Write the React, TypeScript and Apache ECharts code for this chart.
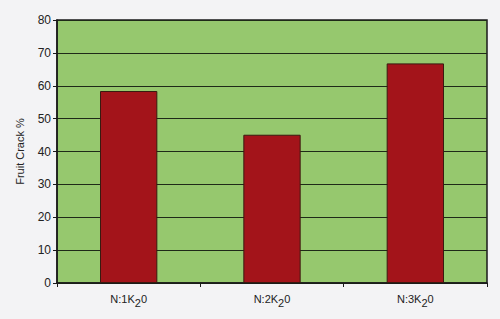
import React, { useEffect, useRef } from "react";
import * as echarts from "echarts";

const categories = ["N:1K{sub|2}0", "N:2K{sub|2}0", "N:3K{sub|2}0"];
const crackValues = [58.4, 45.1, 66.8];
const yTicks = { min: 0, max: 80, interval: 10 };
const yAxisTitle = "Fruit Crack %";

export default function App() {
  const ref = useRef<HTMLDivElement>(null);
  useEffect(() => {
    if (!ref.current) return;
    const chart = echarts.init(ref.current, null, { renderer: "svg" });
    chart.setOption({
      animation: false,
      backgroundColor: "#f3f3f5",
      grid: {
        left: 57,
        top: 20,
        right: 13,
        bottom: 36,
        show: true,
        backgroundColor: "#96c86e",
        borderColor: "#1a1a1a",
        borderWidth: 1.5,
      },
      xAxis: {
        type: "category",
        data: categories,
        axisLine: { lineStyle: { color: "#1a1a1a", width: 1.5 } },
        axisTick: { show: true, alignWithLabel: false, length: 4, lineStyle: { color: "#1a1a1a" } },
        axisLabel: {
          margin: 7,
          color: "#222",
          fontFamily: "Liberation Sans, Arial, sans-serif",
          fontSize: 11,
          rich: {
            sub: { fontSize: 11, padding: [7, 0, 0, 0], color: "#222", fontFamily: "Liberation Sans, Arial, sans-serif" },
          },
        },
      },
      yAxis: {
        type: "value",
        min: yTicks.min,
        max: yTicks.max,
        interval: yTicks.interval,
        name: yAxisTitle,
        nameLocation: "middle",
        nameGap: 32,
        nameTextStyle: { color: "#222", fontSize: 11, fontFamily: "Liberation Sans, Arial, sans-serif" },
        axisLine: { show: true, lineStyle: { color: "#1a1a1a", width: 1.5 } },
        axisTick: { show: true, length: 4, lineStyle: { color: "#1a1a1a" } },
        axisLabel: { color: "#222", fontSize: 12, margin: 6, fontFamily: "Liberation Sans, Arial, sans-serif" },
        splitLine: { show: true, lineStyle: { color: "#1f2a18", width: 1.2 } },
      },
      series: [
        {
          type: "bar",
          data: crackValues,
          barWidth: "40%",
          itemStyle: { color: "#a3141a", borderColor: "#3a1a10", borderWidth: 1 },
        },
      ],
    });
    return () => chart.dispose();
  }, []);
  return <div ref={ref} style={{ width: 500, height: 319, position: "absolute", left: 0, top: 0 }} />;
}
